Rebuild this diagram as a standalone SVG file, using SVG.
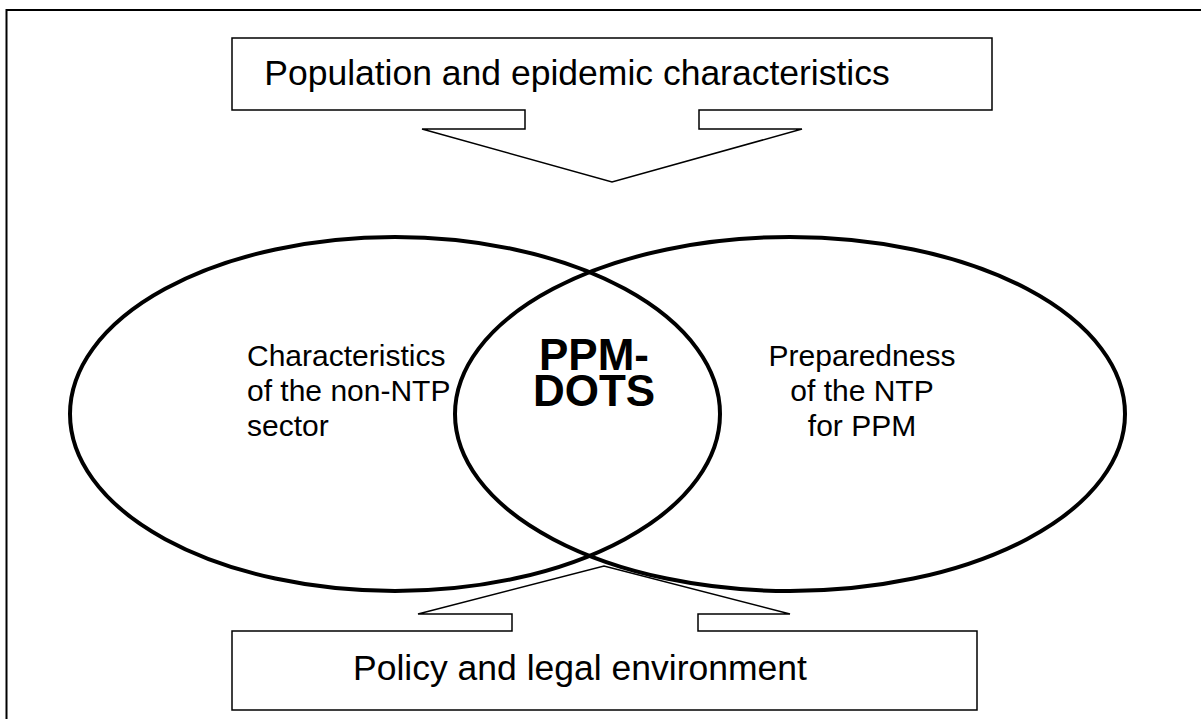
<svg xmlns="http://www.w3.org/2000/svg" width="1201" height="719" viewBox="0 0 1201 719">
  <style>
    .frame { fill: none; stroke: #000; stroke-width: 2; }
    .callout { fill: #fff; stroke: #000; stroke-width: 1.5; stroke-linejoin: miter; }
    .ring { fill: none; stroke: #000; stroke-width: 4; }
    .lbl { font-family: "Liberation Sans", Arial, sans-serif; fill: #000; }
    .box-lbl { font-size: 35.5px; }
    .set-lbl { font-size: 30px; }
    .core-lbl { font-size: 44px; font-weight: bold; }
  </style>

  <rect width="1201" height="719" fill="#fff"/>

  <!-- outer frame, running off the right and bottom edges -->
  <path class="frame" d="M6.5,730 V10 H1210"/>

  <!-- overlapping sets -->
  <g id="set-non-ntp">
    <ellipse class="ring" cx="395" cy="414" rx="325" ry="177"/>
    <text class="lbl set-lbl" x="247" y="366">Characteristics</text>
    <text class="lbl set-lbl" x="247" y="401">of the non-NTP</text>
    <text class="lbl set-lbl" x="247" y="436">sector</text>
  </g>

  <g id="set-ntp">
    <ellipse class="ring" cx="790" cy="414" rx="335" ry="177"/>
    <text class="lbl set-lbl" x="862" y="366" text-anchor="middle">Preparedness</text>
    <text class="lbl set-lbl" x="862" y="401" text-anchor="middle">of the NTP</text>
    <text class="lbl set-lbl" x="862" y="436" text-anchor="middle">for PPM</text>
  </g>

  <g id="ppm-dots">
    <text class="lbl core-lbl" x="594" y="370" text-anchor="middle">PPM-</text>
    <text class="lbl core-lbl" x="594" y="406" text-anchor="middle">DOTS</text>
  </g>

  <!-- callout boxes with wedge pointers -->
  <g id="population">
    <path class="callout" d="M232,38 H992 V110 H699 V129 H802 L612,182 L422,129 H525 V110 H232 Z"/>
    <text class="lbl box-lbl" x="577" y="85" text-anchor="middle">Population and epidemic characteristics</text>
  </g>

  <g id="policy">
    <path class="callout" d="M232,631 H512 V614 H418 L604,566 L790,614 H698 V631 H977 V710 H232 Z"/>
    <text class="lbl box-lbl" x="580" y="680" text-anchor="middle">Policy and legal environment</text>
  </g>
</svg>
